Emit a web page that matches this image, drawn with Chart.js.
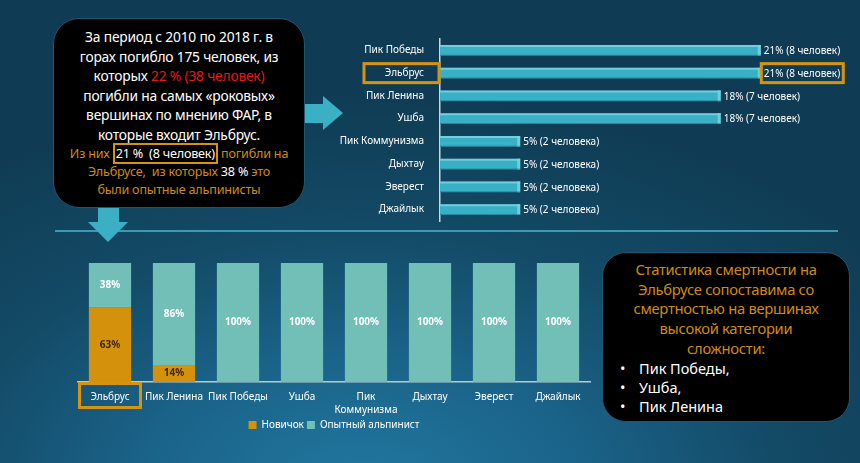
<!DOCTYPE html>
<html lang="ru">
<head>
<meta charset="utf-8">
<script src="https://cdn.jsdelivr.net/npm/chart.js@4.4.0/dist/chart.umd.min.js"></script>
<style>
  html, body { margin:0; padding:0; }
  body {
    width:860px; height:463px; overflow:hidden; position:relative;
    font-family:'Noto Sans', 'Open Sans', sans-serif; font-weight:400;
    background:
      radial-gradient(ellipse 75% 85% at 42% 105%, #2178a0 0%, #1a6288 35%, #134a66 65%, #0f3c54 100%);
  }
  .box { position:absolute; background:#000; border:1px solid #1f5670; box-sizing:border-box; }
  #leftBox { left:53px; top:18px; width:252px; height:190px; border-radius:26px; text-align:center; padding-top:8px; }
  #leftBox .w { color:#fff; font-size:13.8px; line-height:19.6px; white-space:nowrap; letter-spacing:-0.2px; }
  #leftBox .o { color:#cf8b13; font-size:12.6px; line-height:18.3px; white-space:nowrap; letter-spacing:-0.2px; }
  .red { color:#e3191b; }
  .wh { color:#fff; }
  .hl { color:#fff; border:2.5px solid #d4940e; padding:0 1px; }
  #rightBox { left:602px; top:252px; width:248px; height:170px; border-radius:24px; padding-top:7px; }
  #rightBox .o { color:#cf8b13; font-size:14.8px; line-height:19.7px; text-align:center; white-space:nowrap; letter-spacing:-0.3px; }
  #rightBox .b { color:#fff; font-size:14.5px; line-height:19.4px; white-space:nowrap; position:relative; padding-left:36px; }
  #rightBox .b::before { content:'•'; position:absolute; left:17px; }
  #sep { position:absolute; left:55px; top:230px; width:783px; height:1.5px; background:#3a9ab2; }
  svg.arrow { position:absolute; }
  #c1 { position:absolute; left:340px; top:25px; }
  #c2 { position:absolute; left:60px; top:252px; }
</style>
</head>
<body>
<div id="sep"></div>
<svg class="arrow" style="left:0;top:0" width="860" height="463">
  <polygon points="303,104 323,104 323,96 343,113 323,130 323,123 303,123" fill="#3bb0c4"/>
  <polygon points="98,205 119,205 119,222 128,222 108,242 88,222 98,222" fill="#3bb0c4"/>
</svg>
<div class="box" id="leftBox">
  <div class="w">За период с 2010 по 2018 г. в</div>
  <div class="w">горах погибло 175 человек, из</div>
  <div class="w">которых <span class="red">22 % (38 человек)</span></div>
  <div class="w">погибли на самых «роковых»</div>
  <div class="w">вершинах по мнению ФАР, в</div>
  <div class="w">которые входит Эльбрус.</div>
  <div class="o">Из них <span class="hl">21 %&nbsp; (8 человек)</span> погибли на</div>
  <div class="o">Эльбрусе,&nbsp; из которых <span class="wh">38 %</span> это</div>
  <div class="o">были опытные альпинисты</div>
</div>
<div class="box" id="rightBox">
  <div class="o">Статистика смертности на</div>
  <div class="o">Эльбрусе сопоставима со</div>
  <div class="o">смертностью на вершинах</div>
  <div class="o">высокой категории</div>
  <div class="o">сложности:</div>
  <div class="b">Пик Победы,</div>
  <div class="b">Ушба,</div>
  <div class="b">Пик Ленина</div>
</div>
<canvas id="c1" width="520" height="210"></canvas>
<canvas id="c2" width="540" height="194"></canvas>
<script>
// ---- Top chart data: deaths per peak (2010–2018) ----
const peaks = ['Пик Победы', 'Эльбрус', 'Пик Ленина', 'Ушба', 'Пик Коммунизма', 'Дыхтау', 'Эверест', 'Джайлык'];
const deaths = [8, 8, 7, 7, 2, 2, 2, 2];
const deathLabels = ['21% (8 человек)', '21% (8 человек)', '18% (7 человек)', '18% (7 человек)',
                     '5% (2 человека)', '5% (2 человека)', '5% (2 человека)', '5% (2 человека)'];
const highlightPeak = 'Эльбрус';

// ---- Bottom chart data: share of novices vs experienced climbers ----
const peaks2 = ['Эльбрус', 'Пик Ленина', 'Пик Победы', 'Ушба', ['Пик', 'Коммунизма'], 'Дыхтау', 'Эверест', 'Джайлык'];
const novice = [62.5, 14.3, 0, 0, 0, 0, 0, 0];
const experienced = [37.5, 85.7, 100, 100, 100, 100, 100, 100];
const noviceLabels = ['63%', '14%', '', '', '', '', '', ''];
const experiencedLabels = ['38%', '86%', '100%', '100%', '100%', '100%', '100%', '100%'];
const seriesNames = ['Новичок', 'Опытный альпинист'];

Chart.defaults.font.family = "'Noto Sans', 'Open Sans', sans-serif";
Chart.defaults.color = '#ffffff';
Chart.defaults.animation = false;

const ORANGE = '#d4940e';

const topPlugin = {
  id: 'topPlugin',
  afterDatasetsDraw(chart) {
    const ctx = chart.ctx;
    const meta = chart.getDatasetMeta(0);
    ctx.save();
    meta.data.forEach((bar, i) => {
      const h = bar.height;
      const top = bar.y - h / 2;
      ctx.fillStyle = 'rgba(190,240,248,0.45)';
      ctx.fillRect(bar.base, top, bar.x - bar.base, 2);
      ctx.fillStyle = 'rgba(120,215,228,0.8)';
      ctx.fillRect(bar.x - 3, top, 3, h);
      ctx.fillStyle = 'rgba(10,60,80,0.35)';
      ctx.fillRect(bar.base, top + h - 1, bar.x - bar.base, 1);
      ctx.fillStyle = '#ffffff';
      ctx.font = "10px 'Noto Sans', sans-serif";
      ctx.textAlign = 'left';
      ctx.textBaseline = 'middle';
      ctx.fillText(deathLabels[i], bar.x + 3, bar.y + 1);
    });
    const idx = peaks.indexOf(highlightPeak);
    const b = meta.data[idx];
    const yc = chart.scales.y.getPixelForValue(idx);
    ctx.strokeStyle = ORANGE;
    ctx.lineWidth = 3;
    ctx.strokeRect(chart.chartArea.left - 76, yc - 9.5, 75, 19);
    ctx.strokeRect(b.x + 0.5, yc - 9.5, 82, 19);
    ctx.restore();
  }
};

new Chart(document.getElementById('c1'), {
  type: 'bar',
  data: {
    labels: peaks,
    datasets: [{
      data: deaths,
      backgroundColor: '#38b1c6',
      borderWidth: 0,
      barPercentage: 0.95,
      categoryPercentage: 0.5
    }]
  },
  options: {
    indexAxis: 'y',
    responsive: false,
    layout: { padding: { top: 2, right: 19, bottom: 0, left: 0 } },
    plugins: { legend: { display: false }, tooltip: { enabled: false } },
    scales: {
      x: { display: false, min: 0, max: 10 },
      y: {
        grid: { display: false },
        border: { display: true, color: '#c9d9de', width: 1.5 },
        ticks: { color: '#ffffff', font: { size: 10 }, padding: 8 },
        afterFit(scale) { scale.width = 100; }
      }
    }
  },
  plugins: [topPlugin]
});

const bottomPlugin = {
  id: 'bottomPlugin',
  afterDatasetsDraw(chart) {
    const ctx = chart.ctx;
    ctx.save();
    ctx.textAlign = 'center';
    ctx.textBaseline = 'middle';
    ctx.font = "bold 10px 'Noto Sans', sans-serif";
    const labelSets = [noviceLabels, experiencedLabels];
    const colors = ['#3a2500', '#ffffff'];
    chart.data.datasets.forEach((ds, d) => {
      const meta = chart.getDatasetMeta(d);
      meta.data.forEach((bar, i) => {
        const txt = labelSets[d][i];
        if (!txt) return;
        ctx.fillStyle = colors[d];
        ctx.fillText(txt, bar.x, (bar.y + bar.base) / 2);
      });
    });
    const xs = chart.scales.x;
    const cx = xs.getPixelForValue(0);
    ctx.strokeStyle = ORANGE;
    ctx.lineWidth = 3;
    ctx.strokeRect(cx - 30.5, chart.chartArea.bottom + 1.5, 61, 24);
    ctx.restore();
  }
};

new Chart(document.getElementById('c2'), {
  type: 'bar',
  data: {
    labels: peaks2,
    datasets: [
      { label: seriesNames[0], data: novice, backgroundColor: '#d4920c', borderWidth: 0,
        barPercentage: 0.66, categoryPercentage: 1.0 },
      { label: seriesNames[1], data: experienced, backgroundColor: '#72bfb8', borderWidth: 0,
        barPercentage: 0.66, categoryPercentage: 1.0 }
    ]
  },
  options: {
    responsive: false,
    layout: { padding: { top: 11, right: 10, bottom: 6, left: 18 } },
    plugins: {
      tooltip: { enabled: false },
      legend: {
        position: 'bottom',
        labels: { color: '#ffffff', font: { size: 10 }, boxWidth: 8, boxHeight: 8, padding: 3 }
      }
    },
    scales: {
      x: {
        stacked: true,
        grid: { display: false },
        border: { display: true, color: '#b9cbd0', width: 1.5 },
        ticks: { color: '#ffffff', font: { size: 10, lineHeight: 1.25 }, padding: 1, maxRotation: 0, autoSkip: false }
      },
      y: { stacked: true, display: false, min: 0, max: 100 }
    }
  },
  plugins: [bottomPlugin]
});
</script>
</body>
</html>
